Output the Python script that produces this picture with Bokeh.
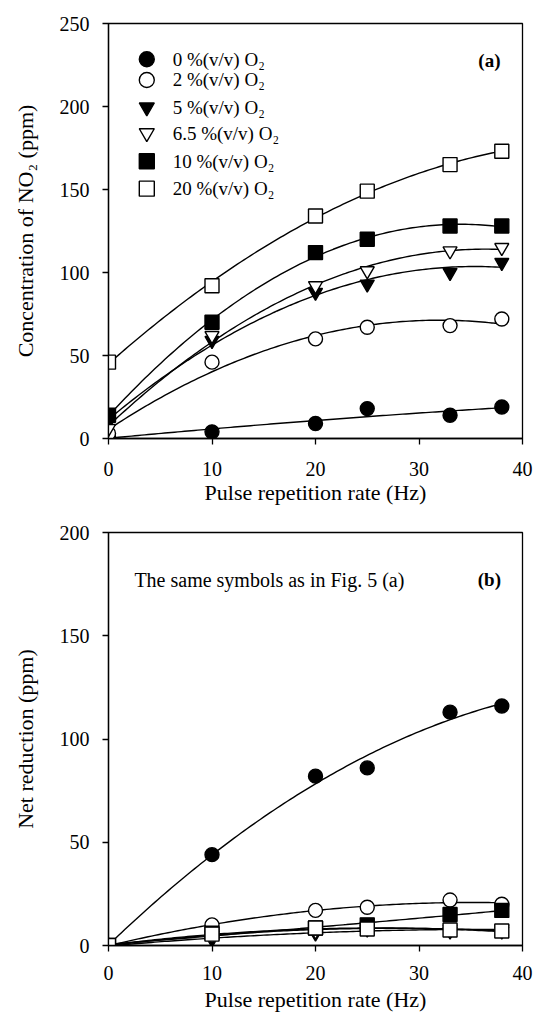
import numpy as np
from bokeh.plotting import figure
from bokeh.layouts import column
from bokeh.models import Label, FixedTicker, Range1d
from bokeh.core.properties import value
from bokeh.embed import file_html
from bokeh.resources import INLINE

# Pulse repetition rates (Hz)
rate_hz = [0, 10, 20, 25, 33, 38]

o2_labels = ["0 %(v/v) O₂", "2 %(v/v) O₂", "5 %(v/v) O₂",
             "6.5 %(v/v) O₂", "10 %(v/v) O₂", "20 %(v/v) O₂"]

# (a) NO2 concentration (ppm) for each O2 content
no2_o2_0 = [1, 4, 9, 18, 14, 19]
no2_o2_2 = [3, 46, 60, 67, 68, 72]
no2_o2_5 = [10, 59, 88, 93, 100, 106]
no2_o2_6_5 = [6, 62, 92, 101, 113, 115]
no2_o2_10 = [14, 70, 112, 120, 128, 128]
no2_o2_20 = [46, 92, 134, 149, 165, 173]

# (b) net NOx reduction (ppm) for each O2 content
red_o2_0 = [0, 44, 82, 86, 113, 116]
red_o2_2 = [0, 10, 17, 18.5, 22, 20]
red_o2_5 = [0, 3, 6, 8, 7, 8]
red_o2_6_5 = [0, 5, 7, 9, 8, 7]
red_o2_10 = [0, 6, 8.5, 10, 15, 17]
red_o2_20 = [0, 5.5, 8.5, 8, 7.5, 7]

x_ticks = [0, 10, 20, 30, 40]

# marker shape / fill per O2 content
marker_styles = [("circle", "black"), ("circle", "white"),
                 ("inverted_triangle", "black"), ("inverted_triangle", "white"),
                 ("square", "black"), ("square", "white")]

SERIF = "Liberation Serif"
MARKER_SIZE = 14


def make_panel(height, top, bottom, y_end, y_ticks, y_title, label_gap, title_gap):
    p = figure(width=535, height=height,
               x_range=Range1d(0, 40), y_range=Range1d(0, y_end),
               output_backend="svg", toolbar_location=None,
               min_border_left=108, min_border_right=13,
               min_border_top=top, min_border_bottom=bottom)
    p.grid.visible = False
    p.outline_line_color = "black"
    p.outline_line_width = 1.3
    p.background_fill_color = "white"
    p.border_fill_color = "white"
    p.xaxis.ticker = FixedTicker(ticks=x_ticks)
    p.yaxis.ticker = FixedTicker(ticks=y_ticks)
    for ax in (p.xaxis, p.yaxis):
        ax.axis_line_width = 1.3
        ax.axis_line_color = "black"
        ax.major_tick_in = 0
        ax.major_tick_out = 6
        ax.major_tick_line_width = 1.3
        ax.major_tick_line_color = "black"
        ax.minor_tick_line_color = None
        ax.major_label_text_font = SERIF
        ax.major_label_text_font_size = "20px"
        ax.major_label_text_color = "black"
        ax.axis_label_text_font = SERIF
        ax.axis_label_text_font_size = "22px"
        ax.axis_label_text_font_style = "normal"
        ax.axis_label_text_color = "black"
    p.yaxis.major_label_standoff = 13
    p.xaxis.major_label_standoff = label_gap
    p.xaxis.axis_label = "Pulse repetition rate (Hz)"
    p.xaxis.axis_label_standoff = title_gap
    p.yaxis.axis_label = y_title
    p.yaxis.axis_label_standoff = 19
    return p


def draw_series(p, series):
    xs_fit = np.linspace(min(rate_hz), max(rate_hz), 120)
    for values in series:
        # second-order regression curve through each series
        coeffs = np.polyfit(rate_hz, values, 2)
        p.line(xs_fit, np.polyval(coeffs, xs_fit), line_color="black", line_width=1.4)
    for values, (marker, fill) in zip(series, marker_styles):
        p.scatter(rate_hz, values, marker=marker, size=MARKER_SIZE,
                  fill_color=fill, line_color="black", line_width=1.4)


# ---- (a) NO2 concentration ----
p1 = make_panel(510, 23, 72, 250, [0, 50, 100, 150, 200, 250],
                "Concentration of NO₂ (ppm)", 17, 1)
draw_series(p1, [no2_o2_0, no2_o2_2, no2_o2_5, no2_o2_6_5, no2_o2_10, no2_o2_20])

# key: symbol column and label column in the upper-left corner of panel (a)
key_symbol_x = 3.7
key_text_x = 6.2
key_rows_y = [228.5, 216, 199.5, 184, 167, 150.5]
for (marker, fill), row_y in zip(marker_styles, key_rows_y):
    p1.scatter([key_symbol_x], [row_y], marker=marker, size=MARKER_SIZE + 1,
               fill_color=fill, line_color="black", line_width=1.4)
p1.text(x=[key_text_x] * len(o2_labels), y=key_rows_y, text=o2_labels,
        text_font=value(SERIF), text_font_size="19px", text_color="black",
        text_align="left", text_baseline="middle")

p1.add_layout(Label(x=36.8, y=228, text="(a)", text_font=SERIF, text_font_size="19px",
                    text_font_style="bold", text_color="black",
                    text_align="center", text_baseline="middle"))

# ---- (b) net reduction ----
p2 = make_panel(504, 22, 67, 200, [0, 50, 100, 150, 200], "Net reduction (ppm)", 14, 4)
draw_series(p2, [red_o2_0, red_o2_2, red_o2_5, red_o2_6_5, red_o2_10, red_o2_20])

p2.add_layout(Label(x=2.5, y=177, text="The same symbols as in Fig. 5 (a)", text_font=SERIF,
                    text_font_size="20px", text_color="black",
                    text_align="left", text_baseline="middle"))
p2.add_layout(Label(x=36.8, y=177, text="(b)", text_font=SERIF, text_font_size="19px",
                    text_font_style="bold", text_color="black",
                    text_align="center", text_baseline="middle"))

layout = column(p1, p2, spacing=0)

with open("out.html", "w") as f:
    f.write(file_html(layout, INLINE))
